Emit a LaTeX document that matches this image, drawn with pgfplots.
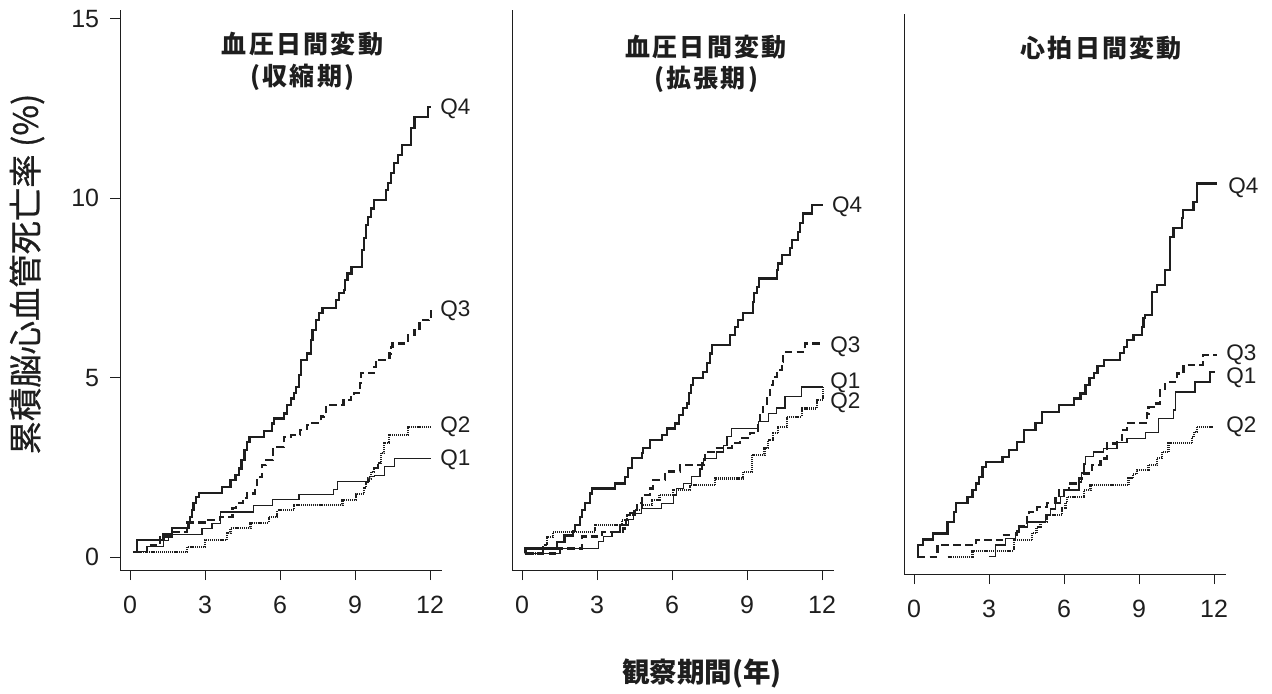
\documentclass[border=0pt]{standalone}
\usepackage{fontspec}
\setmainfont{Liberation Sans}
\newfontfamily\cjk{Noto Sans CJK JP}
\newfontfamily\cjkm{Noto Sans CJK JP}[FakeBold=0.7]
\newfontfamily\cjkt{Noto Sans CJK JP}[LetterSpace=9]
\usepackage{pgfplots}
\pgfplotsset{compat=1.18}
\definecolor{ink}{HTML}{1E1E1E}
\pgfplotsset{
  panel/.style={
    scale only axis, width=193.2pt, height=336pt,
    xmin=-0.4, xmax=12.48, ymin=-0.36, ymax=15.24,
    axis x line*=bottom, axis y line*=left,
    axis line style={line width=0.6pt, ink},
    tick align=outside, major tick length=6pt,
    tick style={line width=0.6pt, ink},
    xtick={0,3,6,9,12},
    clip=false,
    ticklabel style={font=\fontsize{15}{15}\selectfont, text=ink},
    /pgf/number format/assume math mode=true,
    xticklabel style={yshift=-6pt},
  },
  q4/.style={const plot, line width=1.3pt, ink},
  q1/.style={const plot, line width=0.8pt, ink},
  q3/.style={const plot, line width=1.4pt, ink, dash pattern=on 4.5pt off 2.6pt},
  q2/.style={const plot, line width=1.25pt, ink, dash pattern=on 0.65pt off 0.5pt},
}
\newcommand{\qlab}[3]{\node[anchor=west, inner sep=0pt, text=ink, font=\fontsize{13.5}{13.5}\selectfont] at (axis cs:#1,#2) {#3};}
\newcommand{\ttl}[3]{\node[anchor=center, inner sep=0pt, text=ink, font=\cjkt\bfseries\fontsize{15}{15}\selectfont] at (axis cs:#1,#2) {#3};}
\begin{document}
\begin{tikzpicture}
\useasboundingbox (0pt,0pt) rectangle (763.2pt,-415.8pt);
% ---------------- panel 1 ----------------
\begin{axis}[panel, at={(72pt,-342pt)}, anchor=south west, ytick={0,5,10,15}, yticklabel style={xshift=-3pt}]
\addplot[q4] coordinates {(0.11,0.15)(0.27,0.47)(1.34,0.63)(1.67,0.82)(2.34,0.94)(2.41,1.12)(2.48,1.31)(2.54,1.50)(2.65,1.68)(2.77,1.79)(3.68,1.96)(4.02,2.14)(4.22,2.28)(4.35,2.47)(4.46,2.70)(4.58,2.98)(4.68,3.21)(4.78,3.35)(5.35,3.52)(5.69,3.72)(5.76,3.86)(6.16,4.00)(6.27,4.23)(6.43,4.42)(6.56,4.56)(6.63,4.74)(6.75,5.07)(6.83,5.49)(7.07,5.67)(7.23,6.04)(7.30,6.32)(7.43,6.60)(7.56,6.79)(7.70,6.93)(8.23,7.16)(8.37,7.35)(8.57,7.44)(8.59,7.72)(8.70,7.90)(8.86,8.09)(9.28,8.55)(9.37,8.88)(9.44,9.25)(9.51,9.48)(9.64,9.71)(9.77,9.94)(10.24,10.22)(10.31,10.41)(10.44,10.69)(10.55,10.97)(10.71,11.20)(10.88,11.48)(11.24,11.95)(11.38,12.26)(11.92,12.54)(12.05,12.54)};
\addplot[q3] coordinates {(0.12,0.14)(0.68,0.33)(1.20,0.56)(1.73,0.70)(2.28,0.96)(3.13,1.03)(3.61,1.12)(4.10,1.36)(4.25,1.50)(4.51,1.64)(4.69,1.77)(5.00,1.86)(5.07,2.23)(5.29,2.56)(5.45,2.70)(5.73,3.07)(6.15,3.35)(6.43,3.40)(6.81,3.54)(7.07,3.68)(7.30,3.73)(7.63,3.92)(7.76,3.97)(7.83,4.23)(8.54,4.37)(8.84,4.51)(8.97,4.57)(9.17,4.60)(9.20,4.85)(9.24,5.12)(9.77,5.30)(9.84,5.44)(9.96,5.49)(10.38,5.67)(10.44,5.86)(10.50,5.95)(11.11,6.18)(11.38,6.37)(11.58,6.60)(11.95,6.70)(12.05,6.94)};
\addplot[q2] coordinates {(0.13,0.15)(2.28,0.29)(3.01,0.47)(3.88,0.66)(4.02,0.80)(4.82,0.96)(5.55,1.12)(5.89,1.31)(6.56,1.45)(8.50,1.59)(9.04,1.77)(9.36,1.92)(9.44,2.05)(9.51,2.19)(9.64,2.37)(9.76,2.48)(9.91,2.61)(10.04,2.89)(10.17,3.17)(10.37,3.40)(11.11,3.63)(12.05,3.63)};
\addplot[q1] coordinates {(0.12,0.15)(0.67,0.29)(1.33,0.47)(1.53,0.63)(2.88,0.80)(3.28,0.94)(3.61,1.26)(4.95,1.43)(5.69,1.60)(6.76,1.75)(8.15,1.89)(8.30,2.10)(9.57,2.24)(9.77,2.28)(10.17,2.52)(10.57,2.75)(12.05,2.75)};
\qlab{12.4}{12.5}{Q4}\qlab{12.4}{6.85}{Q3}\qlab{12.4}{3.62}{Q2}\qlab{12.4}{2.7}{Q1}
\ttl{6.9}{14.29}{血圧日間変動}
\ttl{6.9}{13.37}{(収縮期)}
\end{axis}
% ---------------- panel 2 ----------------
\begin{axis}[panel, at={(307.2pt,-342pt)}, anchor=south west, ytick=\empty]
\addplot[q4] coordinates {(0.12,0.10)(0.14,0.24)(1.40,0.43)(1.70,0.60)(2.05,0.73)(2.12,0.89)(2.32,1.12)(2.40,1.31)(2.52,1.50)(2.72,1.77)(2.79,1.91)(3.72,2.05)(4.12,2.24)(4.24,2.48)(4.39,2.75)(4.79,2.89)(4.85,3.03)(5.12,3.26)(5.59,3.40)(5.79,3.58)(6.12,3.72)(6.28,3.96)(6.44,4.15)(6.59,4.28)(6.68,4.57)(6.76,4.79)(6.85,4.98)(7.25,5.16)(7.39,5.40)(7.52,5.67)(7.59,5.91)(8.32,6.18)(8.52,6.41)(8.65,6.60)(8.85,6.79)(9.25,7.11)(9.28,7.35)(9.39,7.53)(9.49,7.76)(10.19,7.99)(10.25,8.18)(10.39,8.41)(10.72,8.60)(10.79,8.83)(11.05,9.06)(11.12,9.30)(11.25,9.57)(11.59,9.81)(12.05,9.81)};
\addplot[q3] coordinates {(0.12,0.10)(1.39,0.24)(2.39,0.57)(3.19,0.70)(4.05,0.80)(4.16,1.03)(4.32,1.22)(4.59,1.50)(4.79,1.73)(5.12,1.91)(5.25,2.14)(5.72,2.38)(6.32,2.56)(7.32,2.93)(7.72,3.03)(8.39,3.17)(8.72,3.31)(9.12,3.45)(9.45,3.72)(9.52,4.00)(9.65,4.23)(9.79,4.47)(9.92,4.79)(10.05,5.02)(10.19,5.21)(10.39,5.44)(10.45,5.72)(11.32,5.95)(12.05,5.95)};
\addplot[q2] coordinates {(0.12,0.10)(0.85,0.33)(0.99,0.57)(1.25,0.70)(2.92,0.89)(3.99,1.03)(4.20,1.17)(4.50,1.31)(4.80,1.45)(5.20,1.59)(5.50,1.73)(6.05,1.87)(6.72,2.00)(7.72,2.19)(8.85,2.38)(9.19,2.84)(9.70,3.05)(9.85,3.25)(10.05,3.45)(10.25,3.62)(10.59,3.91)(11.19,4.14)(11.79,4.37)(12.05,4.74)};
\addplot[q1] coordinates {(0.12,0.10)(1.52,0.24)(3.05,0.43)(3.25,0.57)(3.60,0.70)(3.92,0.89)(4.25,1.05)(4.45,1.22)(4.79,1.36)(5.59,1.50)(6.05,1.73)(6.19,1.91)(6.45,2.05)(6.79,2.24)(7.12,2.45)(7.20,2.62)(7.25,2.75)(7.79,2.93)(8.05,3.10)(8.20,3.35)(8.39,3.58)(9.45,3.77)(9.85,4.00)(10.19,4.15)(10.52,4.47)(11.19,4.74)(12.05,4.74)};
\qlab{12.39}{9.75}{Q4}\qlab{12.32}{5.85}{Q3}\qlab{12.32}{4.85}{Q1}\qlab{12.32}{4.29}{Q2}
\ttl{7.36}{14.2}{血圧日間変動}
\ttl{7.36}{13.3}{(拡張期)}
\end{axis}
% ---------------- panel 3 ----------------
\begin{axis}[panel, at={(542.4pt,-344.4pt)}, anchor=south west, ytick=\empty]
\addplot[q4] coordinates {(0.12,0.12)(0.16,0.45)(0.35,0.60)(0.75,0.77)(1.34,1.09)(1.61,1.36)(1.67,1.61)(2.14,1.79)(2.34,1.98)(2.47,2.16)(2.60,2.35)(2.74,2.63)(2.87,2.77)(3.54,2.91)(3.80,3.09)(4.13,3.32)(4.40,3.65)(4.86,3.84)(5.13,4.16)(5.79,4.35)(6.39,4.53)(6.66,4.67)(6.86,4.90)(7.02,5.10)(7.19,5.23)(7.34,5.43)(7.59,5.60)(8.25,5.79)(8.39,5.97)(8.52,6.16)(8.78,6.30)(9.12,6.53)(9.18,6.77)(9.25,6.85)(9.52,7.50)(9.72,7.69)(10.05,8.11)(10.25,9.03)(10.38,9.27)(10.71,9.55)(10.75,9.78)(11.18,10.01)(11.31,10.52)(12.11,10.52)};
\addplot[q3] coordinates {(0.15,0.12)(0.94,0.45)(2.47,0.58)(3.51,0.72)(4.13,0.96)(4.53,1.23)(4.60,1.37)(4.93,1.51)(5.33,1.61)(5.66,1.75)(5.79,1.98)(6.19,2.16)(6.59,2.30)(6.73,2.44)(7.12,2.67)(7.46,2.86)(7.72,3.28)(8.12,3.37)(8.32,3.65)(8.52,3.84)(9.32,4.11)(9.38,4.30)(9.58,4.39)(9.85,4.76)(10.05,4.99)(10.51,5.23)(10.78,5.46)(11.57,5.74)(12.11,5.74)};
\addplot[q2] coordinates {(1.34,0.12)(2.34,0.29)(4.00,0.58)(4.73,0.78)(4.90,0.95)(5.06,1.09)(5.33,1.28)(5.93,1.48)(6.06,1.62)(6.13,1.79)(6.79,1.98)(7.06,2.12)(8.58,2.31)(8.77,2.42)(8.92,2.53)(9.38,2.67)(9.73,2.87)(9.92,3.04)(10.18,3.28)(11.11,3.45)(11.20,3.59)(11.31,3.74)(11.97,3.74)};
\addplot[q1] coordinates {(3.00,0.12)(3.27,0.45)(3.67,0.63)(4.07,0.80)(4.20,0.95)(4.53,1.09)(5.26,1.28)(5.45,1.45)(5.65,1.62)(5.85,1.80)(6.00,1.98)(6.60,2.20)(6.70,2.45)(6.80,2.70)(6.86,2.91)(7.19,3.04)(7.59,3.14)(8.12,3.30)(8.52,3.42)(9.25,3.58)(9.78,3.97)(10.38,4.21)(10.45,4.71)(11.24,4.99)(11.84,5.27)(12.05,5.27)};
\qlab{12.56}{10.39}{Q4}\qlab{12.48}{5.74}{Q3}\qlab{12.48}{5.10}{Q1}\qlab{12.48}{3.73}{Q2}
\ttl{7.49}{14.29}{心拍日間変動}
\end{axis}
% ---------------- axis titles ----------------
\node[rotate=90, inner sep=0pt, text=ink, font=\cjkm\fontsize{20}{20}\selectfont] at (16.2pt,-164.4pt) {累積脳心血管死亡率 (\%)};
\node[inner sep=0pt, text=ink, font=\cjk\bfseries\fontsize{16.5}{16.5}\selectfont] at (421.2pt,-403.8pt) {観察期間(年)};
\end{tikzpicture}
\end{document}
